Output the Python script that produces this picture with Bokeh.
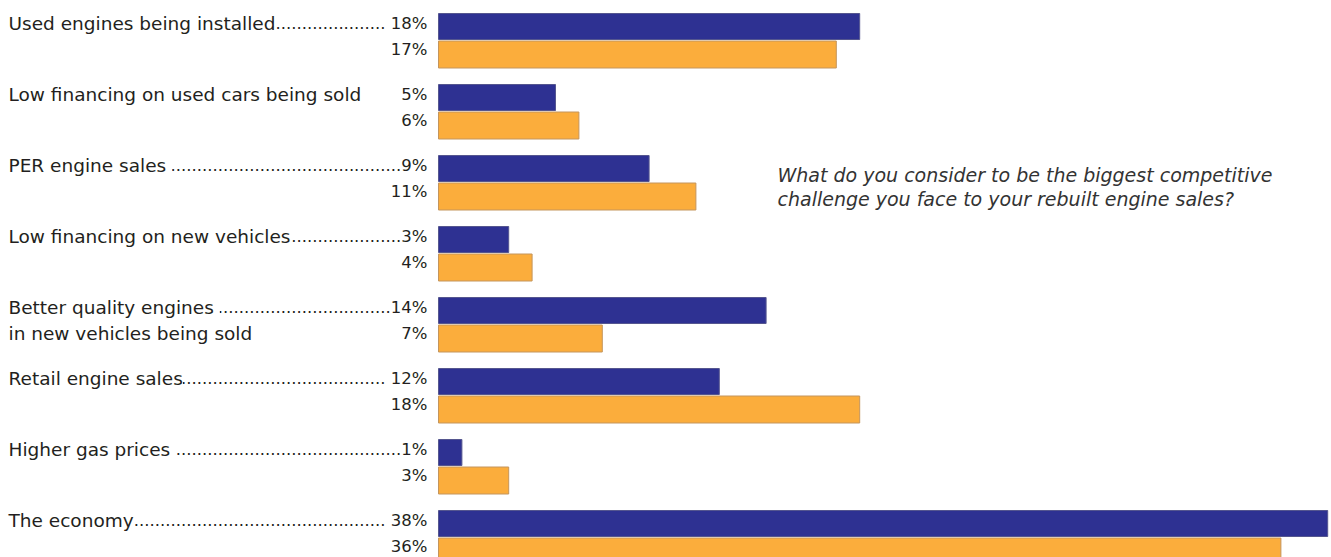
from bokeh.plotting import figure
from bokeh.models import Range1d, ColumnDataSource
from bokeh.embed import file_html
from bokeh.resources import INLINE
from bokeh.core.properties import value

# ---- data ----
labels = [
    "Used engines being installed",
    "Low financing on used cars being sold",
    "PER engine sales ",
    "Low financing on new vehicles",
    "Better quality engines ",
    "Retail engine sales",
    "Higher gas prices ",
    "The economy",
]
labels_line2 = ["", "", "", "", "in new vehicles being sold", "", "", ""]
has_leader = [True, False, True, True, True, True, True, True]
pct_sep = [" ", "", "", "", "", " ", "", " "]
series_navy = [18, 5, 9, 3, 14, 12, 1, 38]
series_orange = [17, 6, 11, 4, 7, 18, 3, 36]
question = ["What do you consider to be the biggest competitive",
            "challenge you face to your rebuilt engine sales?"]

# ---- layout helpers ----
PX_PER_UNIT = 23.4
ORIGIN = 438.0
def px(x):
    return (x - ORIGIN) / PX_PER_UNIT

PITCH = 71.0
rows = list(range(len(labels)))
navy_y = [26 + PITCH * i for i in rows]
orange_y = [54 + PITCH * i for i in rows]
t1_y = [23 + PITCH * i for i in rows]
t2_y = [49 + PITCH * i for i in rows]

navy_str = [("." * 70 if l else "") + s + f"{v}%"
            for l, s, v in zip(has_leader, pct_sep, series_navy)]
orange_str = [f"{v}%" for v in series_orange]

p = figure(width=1331, height=557, output_backend="svg", toolbar_location=None,
           x_range=Range1d(px(0), px(1331)), y_range=Range1d(557, 0),
           min_border=0, min_border_left=0, min_border_right=0,
           min_border_top=0, min_border_bottom=0)
p.axis.visible = False
p.grid.visible = False
p.outline_line_color = None
p.background_fill_color = "white"

src = ColumnDataSource(dict(
    navy=series_navy, orange=series_orange, ny=navy_y, oy=orange_y,
    lab=labels, lab2=labels_line2, t1=t1_y, t2=t2_y,
    npct=navy_str, opct=orange_str,
))

p.hbar(y="ny", left=0, right="navy", height=26, source=src,
       fill_color="#2e3192", line_color="#55568f", line_width=1)
p.hbar(y="oy", left=0, right="orange", height=27, source=src,
       fill_color="#fbad3c", line_color="#c4955c", line_width=1)

font = value("DejaVu Sans")
FS = "18.5px"
PFS = "16.5px"
TC = "#231f20"
p.text(x=px(427), y="t1", text="npct", source=src, text_font=font,
       text_font_size=PFS, text_color=TC,
       text_align="right", text_baseline="middle")
p.text(x=px(427), y="t2", text="opct", source=src, text_font=font,
       text_font_size=PFS, text_color=TC,
       text_align="right", text_baseline="middle")
p.text(x=px(8), y="t1", text="lab", source=src, text_font=font,
       text_font_size=FS, text_color=TC,
       text_align="left", text_baseline="middle",
       background_fill_color="white")
p.text(x=px(8), y="t2", text="lab2", source=src, text_font=font,
       text_font_size=FS, text_color=TC,
       text_align="left", text_baseline="middle")

p.text(x=[px(777), px(777)], y=[174, 198], text=question, text_font=font,
       text_font_size="19px", text_font_style="italic", text_color="#333333",
       text_align="left", text_baseline="middle")

open("out.html", "w").write(file_html(p, INLINE))
